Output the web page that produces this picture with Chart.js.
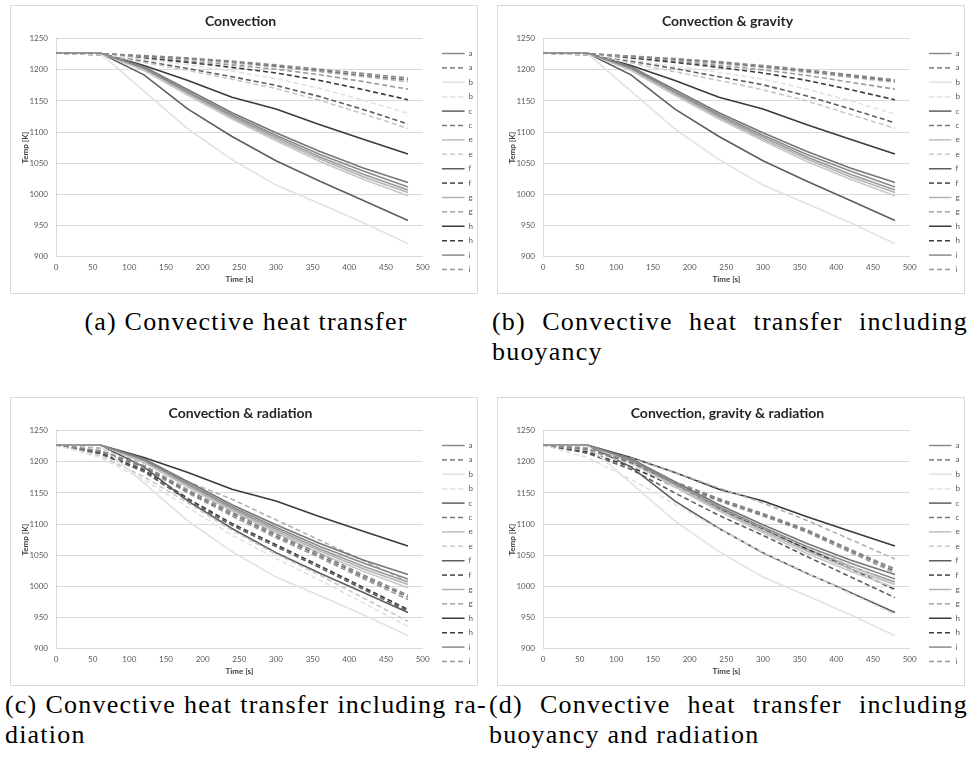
<!DOCTYPE html>
<html>
<head>
<meta charset="utf-8">
<script src="https://cdn.jsdelivr.net/npm/chart.js@4.4.1/dist/chart.umd.min.js"></script>
<style>
  html, body { margin: 0; padding: 0; background: #fff; }
  body { width: 978px; height: 758px; position: relative; overflow: hidden; }
  .panel { position: absolute; width: 466px; height: 287px; border: 1px solid #d9d9d9; background: #fff; }
  .panel canvas { display: block; }
  .cap { position: absolute; font-family: "Liberation Serif", "Times New Roman", serif; font-size: 26px;
         letter-spacing: 1.2px; line-height: 30px; color: #000; white-space: nowrap; }
  .just { display: flex; justify-content: space-between; }
</style>
</head>
<body>
<div class="panel" style="left:10px;top:5px"><canvas id="chartConv" width="466" height="287"></canvas></div>
<div class="panel" style="left:497px;top:5px"><canvas id="chartGrav" width="466" height="287"></canvas></div>
<div class="panel" style="left:10px;top:397px"><canvas id="chartRad" width="466" height="287"></canvas></div>
<div class="panel" style="left:497px;top:397px"><canvas id="chartAll" width="466" height="287"></canvas></div>

<div class="cap" style="left:5px;top:307px;width:482px;text-align:center">(a) Convective heat transfer</div>
<div class="cap" style="left:492px;top:307px;width:476px">
  <div class="just"><span>(b)</span><span>Convective</span><span>heat</span><span>transfer</span><span>including</span></div>
  <div>buoyancy</div>
</div>
<div class="cap" style="left:5px;top:690px;width:482px">
  <div class="just"><span>(c)</span><span>Convective</span><span>heat</span><span>transfer</span><span>including</span><span>ra-</span></div>
  <div>diation</div>
</div>
<div class="cap" style="left:489px;top:690px;width:479px">
  <div class="just"><span>(d)</span><span>Convective</span><span>heat</span><span>transfer</span><span>including</span></div>
  <div>buoyancy and radiation</div>
</div>

<script>
// Sample times [s]
const times = [0, 60, 120, 180, 240, 300, 360, 420, 480];

// Axis ticks
const xTicks = [0, 50, 100, 150, 200, 250, 300, 350, 400, 450, 500];
const yTicks = [900, 950, 1000, 1050, 1100, 1150, 1200, 1250];

// Series names (each appears as a solid and a dashed curve)
const seriesNames = ['a', 'b', 'c', 'e', 'f', 'g', 'h', 'i'];

// Solid curves [K] (same in all four charts)
const solidA = [1227, 1227, 1203, 1165, 1128, 1095, 1064, 1037, 1012];
const solidB = [1227, 1227, 1166, 1105, 1056, 1015, 985, 954, 921];
const solidC = [1227, 1227, 1205, 1168, 1131, 1099, 1069, 1042, 1019];
const solidE = [1227, 1227, 1199, 1159, 1121, 1086, 1053, 1024, 998];
const solidF = [1227, 1227, 1192, 1137, 1093, 1054, 1021, 990, 958];
const solidG = [1227, 1227, 1200, 1161, 1123, 1089, 1057, 1028, 1003];
const solidH = [1227, 1227, 1207, 1183, 1156, 1137, 1112, 1088, 1065];
const solidI = [1227, 1227, 1202, 1163, 1125, 1092, 1060, 1032, 1007];

// Dashed curves [K]: convection
const convA = [1227, 1226, 1223, 1219, 1214, 1208, 1201, 1194, 1187];
const convB = [1227, 1225, 1217, 1208, 1198, 1186, 1170, 1151, 1130];
const convC = [1227, 1226, 1222, 1218, 1213, 1206, 1199, 1191, 1184];
const convE = [1227, 1224, 1212, 1199, 1185, 1170, 1151, 1129, 1106];
const convF = [1227, 1224, 1214, 1202, 1189, 1175, 1157, 1136, 1113];
const convG = [1227, 1225, 1221, 1217, 1211, 1205, 1197, 1189, 1181];
const convH = [1227, 1225, 1219, 1212, 1204, 1195, 1183, 1168, 1152];
const convI = [1227, 1225, 1220, 1214, 1208, 1201, 1192, 1181, 1169];

// Dashed curves [K]: convection & gravity
const gravA = [1227, 1226, 1222, 1218, 1213, 1207, 1200, 1192, 1184];
const gravB = [1227, 1225, 1216, 1206, 1196, 1185, 1169, 1150, 1129];
const gravC = [1227, 1226, 1222, 1217, 1212, 1205, 1198, 1190, 1182];
const gravE = [1227, 1224, 1211, 1197, 1183, 1168, 1150, 1128, 1106];
const gravF = [1227, 1224, 1214, 1202, 1189, 1176, 1158, 1137, 1115];
const gravG = [1227, 1225, 1221, 1216, 1210, 1204, 1196, 1188, 1180];
const gravH = [1227, 1225, 1219, 1212, 1204, 1195, 1183, 1168, 1152];
const gravI = [1227, 1225, 1220, 1214, 1207, 1200, 1191, 1180, 1169];

// Dashed curves [K]: convection & radiation
const radA = [1227, 1218, 1194, 1155, 1119, 1084, 1052, 1018, 986];
const radB = [1227, 1207, 1171, 1127, 1082, 1045, 1010, 973, 936];
const radC = [1227, 1217, 1192, 1152, 1116, 1081, 1049, 1015, 983];
const radE = [1227, 1210, 1176, 1134, 1090, 1052, 1018, 981, 944];
const radF = [1227, 1213, 1184, 1138, 1098, 1064, 1030, 995, 960];
const radG = [1227, 1222, 1198, 1168, 1140, 1107, 1074, 1041, 1008];
const radH = [1227, 1214, 1187, 1141, 1101, 1067, 1033, 998, 963];
const radI = [1227, 1216, 1190, 1150, 1113, 1078, 1046, 1012, 979];

// Dashed curves [K]: convection, gravity & radiation
const allA = [1227, 1221, 1201, 1168, 1141, 1117, 1091, 1059, 1028];
const allB = [1227, 1207, 1172, 1132, 1092, 1055, 1022, 988, 955];
const allC = [1227, 1220, 1199, 1166, 1139, 1115, 1089, 1057, 1025];
const allE = [1227, 1219, 1197, 1161, 1127, 1094, 1063, 1033, 1003];
const allF = [1227, 1214, 1188, 1150, 1114, 1082, 1048, 1015, 982];
const allG = [1227, 1223, 1206, 1183, 1158, 1134, 1106, 1075, 1044];
const allH = [1227, 1216, 1192, 1160, 1125, 1093, 1060, 1028, 995];
const allI = [1227, 1219, 1198, 1164, 1137, 1113, 1087, 1054, 1022];

const solidSet = [solidA, solidB, solidC, solidE, solidF, solidG, solidH, solidI];

// Grey shade per series
const seriesColors = ['#8a8a8a', '#e2e2e2', '#767676', '#c8c8c8', '#5e5e5e', '#b2b2b2', '#3a3a3a', '#9a9a9a'];

const FONT = 'Lato, "Open Sans", sans-serif';

// Moves the legend column a little away from the plot area
const legendOffset = {
  id: 'legendOffset',
  afterLayout(chart) {
    const lg = chart.legend;
    if (lg) {
      lg.left += 13; lg.right += 13;
      lg.top += 12; lg.bottom += 12;
    }
  }
};

function toPoints(values) {
  return times.map((t, i) => ({ x: t, y: values[i] }));
}

function buildDatasets(dashedSet) {
  const ds = [];
  seriesNames.forEach((name, k) => {
    ds.push({
      label: name,
      data: toPoints(solidSet[k]),
      borderColor: seriesColors[k],
      backgroundColor: seriesColors[k],
      borderWidth: 1.6,
      pointRadius: 0,
      tension: 0
    });
    ds.push({
      label: name,
      data: toPoints(dashedSet[k]),
      borderColor: seriesColors[k],
      backgroundColor: seriesColors[k],
      borderWidth: 1.6,
      borderDash: [5, 3],
      pointRadius: 0,
      tension: 0
    });
  });
  return ds;
}

function makeChart(id, title, dashedSet) {
  new Chart(document.getElementById(id), {
    type: 'line',
    data: { datasets: buildDatasets(dashedSet) },
    plugins: [legendOffset],
    options: {
      responsive: false,
      animation: false,
      devicePixelRatio: 1,
      layout: { padding: { left: 0, right: 7, top: 0, bottom: 0 } },
      plugins: {
        tooltip: { enabled: false },
        title: {
          display: true,
          text: title,
          color: '#262626',
          font: { family: FONT, size: 14, weight: 'bold' },
          padding: { top: 6.6, bottom: 9.3 }
        },
        legend: {
          position: 'right',
          align: 'center',
          labels: {
            // flat sample box so the line keeps its dash pattern
            boxWidth: 22.5,
            boxHeight: 0,
            padding: 6.4,
            color: '#595959',
            font: { family: FONT, size: 8 }
          }
        }
      },
      scales: {
        x: {
          type: 'linear',
          min: xTicks[0],
          max: xTicks[xTicks.length - 1],
          afterBuildTicks: (axis) => { axis.ticks = xTicks.map(v => ({ value: v })); },
          grid: { display: false, drawTicks: false },
          border: { display: true, color: '#d9d9d9', width: 1 },
          ticks: { padding: 6, color: '#595959', font: { family: FONT, size: 8 }, maxRotation: 0,
                   callback: (v) => String(v) },
          title: { display: true, text: 'Time [s]', color: '#404040',
                   font: { family: FONT, size: 8, weight: 'bold' }, padding: { top: 0, bottom: 9 } },
          afterFit: (axis) => { axis.height = 36.3; }
        },
        y: {
          type: 'linear',
          min: yTicks[0],
          max: yTicks[yTicks.length - 1],
          afterBuildTicks: (axis) => { axis.ticks = yTicks.map(v => ({ value: v })); },
          grid: { color: '#d9d9d9', lineWidth: 1, drawTicks: false },
          border: { display: true, color: '#d9d9d9', width: 1 },
          ticks: { padding: 8, color: '#595959', font: { family: FONT, size: 8 },
                   callback: (v) => String(v) },
          title: { display: true, text: 'Temp [K]', color: '#404040',
                   font: { family: FONT, size: 8, weight: 'bold' }, padding: { top: 10, bottom: 0 } },
          afterFit: (axis) => { axis.width = 45; }
        }
      }
    }
  });
}

makeChart('chartConv', 'Convection',
  [convA, convB, convC, convE, convF, convG, convH, convI]);
makeChart('chartGrav', 'Convection & gravity',
  [gravA, gravB, gravC, gravE, gravF, gravG, gravH, gravI]);
makeChart('chartRad', 'Convection & radiation',
  [radA, radB, radC, radE, radF, radG, radH, radI]);
makeChart('chartAll', 'Convection, gravity & radiation',
  [allA, allB, allC, allE, allF, allG, allH, allI]);
</script>
</body>
</html>
